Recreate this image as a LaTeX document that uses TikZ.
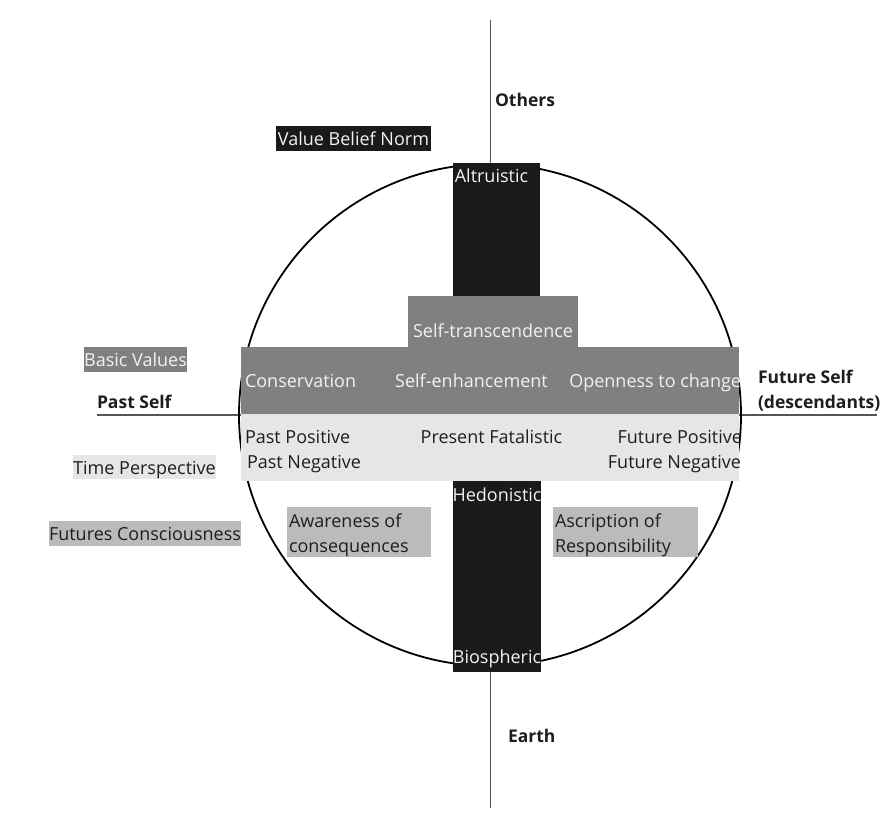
\documentclass[tikz,border=0pt]{standalone}
\usepackage{fontspec}
\setmainfont{Open Sans}
\definecolor{boxblack}{HTML}{1A1A1A}
\definecolor{boxmid}{HTML}{808080}
\definecolor{boxlight}{HTML}{E6E6E6}
\definecolor{boxsoft}{HTML}{BBBBBB}
\definecolor{txtlight}{HTML}{F2F2F2}
\definecolor{txtdark}{HTML}{1E1E1E}
\definecolor{axisgray}{HTML}{555555}
\tikzset{
  panel/.style={rectangle, draw=none, inner sep=0pt, outer sep=0pt},
  blackpanel/.style={panel, fill=boxblack},
  midpanel/.style={panel, fill=boxmid},
  lightpanel/.style={panel, fill=boxlight},
  softpanel/.style={panel, fill=boxsoft},
  tag/.style={text height=19pt, text depth=6pt},
  lbl/.style={inner sep=0pt, outer sep=0pt, anchor=base},
  onlight/.style={text=txtdark},
  ondark/.style={text=txtlight},
  pole/.style={inner sep=0pt, outer sep=0pt, text=txtdark, font=\fontsize{17.5}{25}\selectfont\bfseries},
  axis/.style={draw=axisgray, line width=1.6pt},
}
\begin{document}
\begin{tikzpicture}[x=1pt, y=-1pt, font=\fontsize{18}{25}\selectfont]
\useasboundingbox[fill=white] (0,0) rectangle (894,817);

% axes and ring
\coordinate (top) at (490.5,20);
\coordinate (bottom) at (490.5,808);
\coordinate (left) at (97,415);
\coordinate (right) at (877,415);
\draw[axis] (top) -- (bottom);
\draw[axis] (left) -- (right);
\node[circle, draw=black, line width=1.8pt, minimum size=502pt, inner sep=0pt] (ring) at (490,415) {};

% vertical black bars
\node[blackpanel, minimum width=87pt, minimum height=133pt] (altbox) at (496.5,229.5) {};
\node[blackpanel, minimum width=88pt, minimum height=191pt] (hedbox) at (497,576.5) {};

% value bands
\node[midpanel, minimum width=170pt, minimum height=51pt] (selftr) at (493,321.5) {};
\node[midpanel, minimum width=498pt, minimum height=67pt] (values) at (490,380.5) {};
\node[lightpanel, minimum width=498pt, minimum height=67pt] (timebox) at (490,447.5) {};
\node[softpanel, minimum width=144pt, minimum height=50pt] (awbox) at (359,532) {};
\node[softpanel, minimum width=145pt, minimum height=50pt] (asbox) at (625.5,532) {};

% legend tags
\node[blackpanel, tag, ondark, minimum width=155pt, minimum height=25pt] (vbn) at (353.5,138.5) {Value Belief Norm};
\node[midpanel, tag, ondark, minimum width=103pt, minimum height=25pt] (basic) at (135.5,359.5) {Basic Values};
\node[lightpanel, tag, onlight, text depth=5pt, minimum width=141pt, minimum height=24pt] (timep) at (144.5,467) {Time Perspective};
\node[softpanel, tag, onlight, minimum width=192pt, minimum height=25pt] (futcon) at (145,533.5) {Futures Consciousness};

% poles
\node[pole, anchor=base west] (others) at (495,106) {Others};
\node[pole, anchor=base west] (earth) at (508,742) {Earth};
\node[pole, anchor=base west] (pastself) at (97,408) {Past Self};
\node[pole, anchor=base west] (futself1) at (758,383) {Future Self};
\node[pole, anchor=base west] (futself2) at (758,408) {(descendants)};

% texts in the bars
\node[lbl, ondark] (altru) at (491.5,182) {Altruistic};
\node[lbl, ondark] (hedon) at (497,501) {Hedonistic};
\node[lbl, ondark] (biosph) at (497,663) {Biospheric};

% basic values
\node[lbl, ondark] (strans) at (493,337) {Self-transcendence};
\node[lbl, ondark, anchor=base west] (conserv) at (245,387) {Conservation};
\node[lbl, ondark] (senh) at (471.5,387) {Self-enhancement};
\node[lbl, ondark, anchor=base east] (open) at (741,387) {Openness to change};

% time perspectives
\node[lbl, onlight, anchor=base west] (ppos) at (245,443) {Past Positive};
\node[lbl, onlight, anchor=base west] (pneg) at (247,468) {Past Negative};
\node[lbl, onlight] (pfat) at (491.5,443) {Present Fatalistic};
\node[lbl, onlight, anchor=base east] (fpos) at (742,443) {Future Positive};
\node[lbl, onlight, anchor=base east] (fneg) at (741,468) {Future Negative};

% futures consciousness
\node[lbl, onlight, anchor=base west] (aw1) at (289,527) {Awareness of};
\node[lbl, onlight, anchor=base west] (aw2) at (289,552) {consequences};
\node[lbl, onlight, anchor=base west] (as1) at (555,527) {Ascription of};
\node[lbl, onlight, anchor=base west] (as2) at (555,552) {Responsibility};
\end{tikzpicture}
\end{document}
